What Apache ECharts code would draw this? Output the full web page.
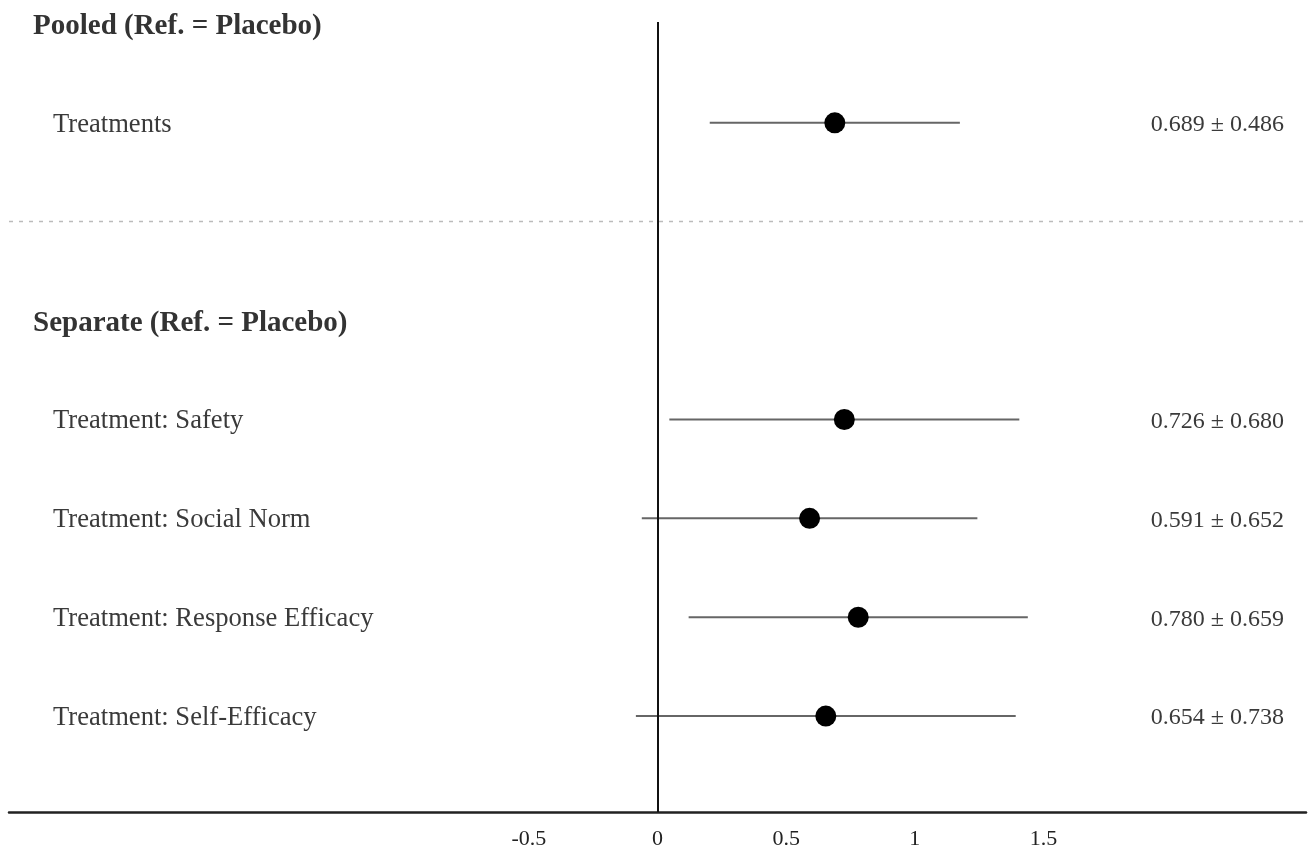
<!DOCTYPE html>
<html>
<head>
<meta charset="utf-8">
<script src="https://cdn.jsdelivr.net/npm/echarts@6/dist/echarts.min.js"></script>
<style>html,body{margin:0;padding:0;background:#fff;}#chart{width:1308px;height:851px;}</style>
</head>
<body>
<div id="chart"></div>
<script>
// ---- data ----
const headers = ['Pooled (Ref. = Placebo)', 'Separate (Ref. = Placebo)'];
const headerPos = [8, 5];
const rowLabels = ['Treatments', 'Treatment: Safety', 'Treatment: Social Norm', 'Treatment: Response Efficacy', 'Treatment: Self-Efficacy'];
const rowPos = [7, 4, 3, 2, 1];
const estimates = [0.689, 0.726, 0.591, 0.780, 0.654];
const errors = [0.486, 0.680, 0.652, 0.659, 0.738];
const separatorPos = 6;
const tickValues = [-0.5, 0, 0.5, 1, 1.5];

const FONT = '"Liberation Serif", "Times New Roman", serif';
const chart = echarts.init(document.getElementById('chart'));

const barData = estimates.map((e, i) => [e - errors[i], e + errors[i], rowPos[i]]);
const pointData = estimates.map((e, i) => [e, rowPos[i]]);
const rowTextData = rowLabels.map((t, i) => [0, rowPos[i], i]);
const headerTextData = headers.map((t, i) => [0, headerPos[i], i]);
const valueTextData = estimates.map((e, i) => [0, rowPos[i], i]);

chart.setOption({
  animation: false,
  backgroundColor: '#fff',
  grid: { left: 9, right: 2, top: 22, bottom: 39, containLabel: false },
  xAxis: {
    type: 'value', min: -2.52, max: 2.52,
    axisLine: { show: true, onZero: false, lineStyle: { color: '#222', width: 2.5 } },
    axisTick: { show: false },
    splitLine: { show: false },
    axisLabel: {
      customValues: tickValues,
      margin: 16,
      fontFamily: FONT, fontSize: 22, color: '#222',
      formatter: v => String(v)
    }
  },
  yAxis: {
    type: 'value', min: 0.03, max: 8.02,
    show: false, splitLine: { show: false }
  },
  series: [
    {
      type: 'custom', z: 2, clip: false,
      data: barData,
      renderItem: (params, api) => {
        const a = api.coord([api.value(0), api.value(2)]);
        const b = api.coord([api.value(1), api.value(2)]);
        return { type: 'line', shape: { x1: a[0], y1: a[1], x2: b[0], y2: b[1] },
          style: { stroke: '#666', lineWidth: 2 } };
      },
      markLine: {
        silent: true, symbol: 'none', label: { show: false },
        data: [
          { xAxis: 0, lineStyle: { color: '#111', width: 2, type: 'solid' } },
          { yAxis: separatorPos, lineStyle: { color: '#bbb', width: 1.3, type: [4, 6] } }
        ]
      }
    },
    {
      type: 'scatter', z: 3, data: pointData, symbol: 'circle', symbolSize: 21,
      itemStyle: { color: '#000', opacity: 1 }
    },
    {
      type: 'custom', clip: false, data: headerTextData,
      renderItem: (params, api) => {
        const p = api.coord([api.value(0), api.value(1)]);
        return { type: 'text', x: 33, y: p[1] + 3,
          style: { text: headers[api.value(2)], font: 'bold 29px ' + FONT, fill: '#333',
            textAlign: 'left', textVerticalAlign: 'middle', align: 'left', verticalAlign: 'middle' } };
      }
    },
    {
      type: 'custom', clip: false, data: rowTextData,
      renderItem: (params, api) => {
        const p = api.coord([api.value(0), api.value(1)]);
        return { type: 'text', x: 53, y: p[1] + 2,
          style: { text: rowLabels[api.value(2)], font: '26.6px ' + FONT, fill: '#3a3a3a',
            textAlign: 'left', textVerticalAlign: 'middle', align: 'left', verticalAlign: 'middle' } };
      }
    },
    {
      type: 'custom', clip: false, data: valueTextData,
      renderItem: (params, api) => {
        const p = api.coord([api.value(0), api.value(1)]);
        const i = api.value(2);
        return { type: 'text', x: 1284, y: p[1] + 2,
          style: { text: estimates[i].toFixed(3) + ' \u00b1 ' + errors[i].toFixed(3), font: '24px ' + FONT, fill: '#3a3a3a',
            textAlign: 'right', textVerticalAlign: 'middle', align: 'right', verticalAlign: 'middle' } };
      }
    }
  ]
});
</script>
</body>
</html>
